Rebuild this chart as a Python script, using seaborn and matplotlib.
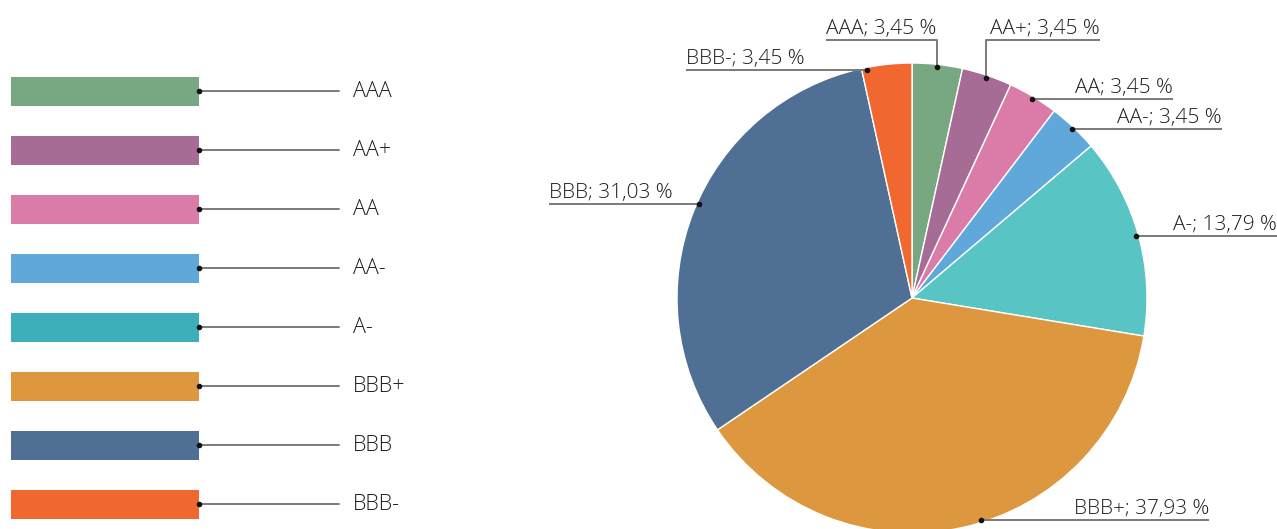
import matplotlib
matplotlib.use('Agg')
import numpy as np
import matplotlib.pyplot as plt
import seaborn as sns

# ---------------- data ----------------
categories = ['AAA', 'AA+', 'AA', 'AA-', 'A-', 'BBB+', 'BBB', 'BBB-']
shares = [3.45, 3.45, 3.45, 3.45, 13.79, 37.93, 31.03, 3.45]
pie_labels = ['AAA; 3,45 %', 'AA+; 3,45 %', 'AA; 3,45 %', 'AA-; 3,45 %',
              'A-; 13,79 %', 'BBB+; 37,93 %', 'BBB; 31,03 %', 'BBB-; 3,45 %']
pie_colors = ['#78A882', '#A76C96', '#DB7CA8', '#60A8DA',
              '#58C4C4', '#DC973F', '#4F7094', '#F06830']
legend_colors = ['#78A882', '#A76C96', '#DB7CA8', '#60A8DA',
                 '#3DAFBA', '#DC973F', '#4F7094', '#F06830']
legend_len = [1] * len(categories)

# ---------------- style ----------------
sns.set_theme(style='white')
plt.rcParams['font.family'] = ['Open Sans', 'DejaVu Sans']
TXT = '#1e1e1e'
LINE = '#7a7a7a'

W, H = 1277, 529
fig = plt.figure(figsize=(W / 100, H / 100), dpi=100)

# ---------------- pie ----------------
R, cx, cy = 235.0, 912.0, 298.0
pax = fig.add_axes([0, 0, 1, 1])
wedges, _ = pax.pie(shares, colors=pie_colors, startangle=90, counterclock=False,
                    radius=1, center=(0, 0),
                    wedgeprops=dict(edgecolor='white', linewidth=1))
pax.set_xlim(-cx / R, (W - cx) / R)
pax.set_ylim(-(H - cy) / R, cy / R)
pax.set_aspect('auto')
pax.axis('off')


def px(x, y):
    return (x - cx) / R, (cy - y) / R


# layout: (fraction along wedge from theta1, elbow y in px or None, far-end x in px)
layout = [
    (0.5, 40, 826),
    (0.5, 40, 1100),
    (0.5, None, 1173),
    (0.5, None, 1222),
    (0.5, None, 1277),
    (0.536, None, 1209),
    (0.48, None, 549),
    (0.9, None, 686),
]
for w, lab, (frac, elbow, far) in zip(wedges, pie_labels, layout):
    ang = np.deg2rad(w.theta1 + frac * (w.theta2 - w.theta1))
    dx, dy = 0.99 * np.cos(ang), 0.99 * np.sin(ang)
    farx, _ = px(far, 0)
    if elbow is not None:
        _, ey = px(0, elbow)
        xs, ys = [dx, dx, farx], [dy, ey, ey]
        ly = ey
    else:
        xs, ys = [dx, farx], [dy, dy]
        ly = dy
    pax.plot(xs, ys, color=LINE, lw=1.4, solid_capstyle='butt', zorder=3)
    pax.scatter([dx], [dy], s=9, color='#111111', zorder=4)
    ha = 'left' if farx < dx else 'right'
    pax.text(farx, ly + 6 / R, lab, ha=ha, va='baseline', fontsize=15,
             color=TXT, fontweight='light')

# ---------------- legend bars ----------------
lax = fig.add_axes([0, 0, 420 / W, 1])
sns.barplot(x=legend_len, y=categories, hue=categories, palette=legend_colors,
            legend=False, width=29 / 59, orient='h', saturation=1,
            linewidth=0, edgecolor='none', ax=lax)
unit = 188.0
lax.set_xlim(-11 / unit, (420 - 11) / unit)
lax.set_ylim((H - 91) / 59, -91 / 59)
lax.axis('off')
for i, cat in enumerate(categories):
    lax.plot([1, (339 - 11) / unit], [i, i], color=LINE, lw=1.4, zorder=3)
    lax.scatter([1], [i], s=9, color='#111111', zorder=4)
    lax.text((353 - 11) / unit, i, cat, ha='left', va='center', fontsize=15.5,
             color=TXT, fontweight='light')

fig.savefig('out.png', dpi=100)
